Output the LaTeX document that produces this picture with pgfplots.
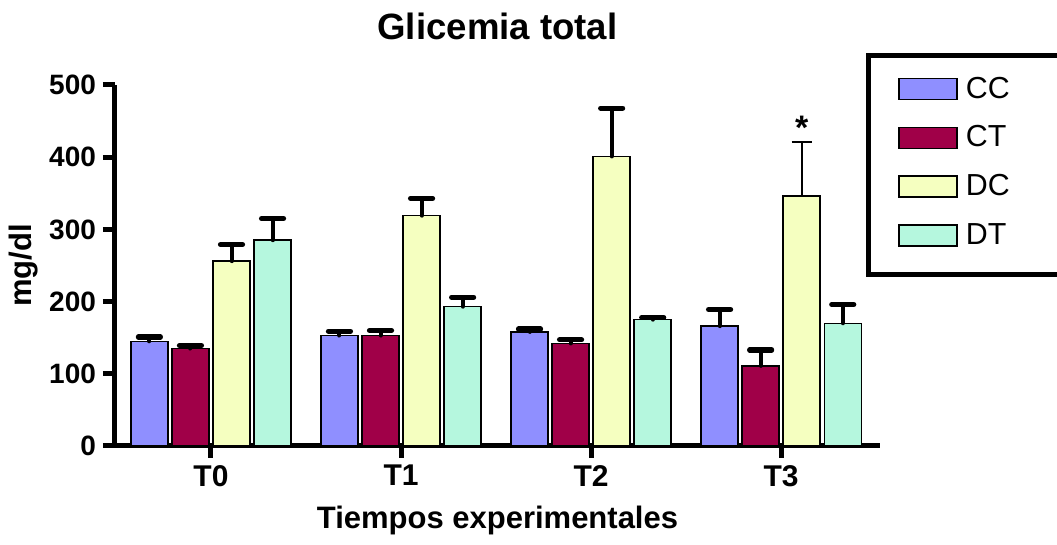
\documentclass[border=0pt]{standalone}
\usepackage{pgfplots}
\pgfplotsset{compat=1.18}
\usepackage{fontspec}
\setmainfont{Liberation Sans}
\definecolor{cCC}{RGB}{143,143,255}
\definecolor{cCT}{RGB}{160,0,72}
\definecolor{cDC}{RGB}{245,255,192}
\definecolor{cDT}{RGB}{181,247,222}
\begin{document}
\begin{tikzpicture}
\begin{axis}[
  scale only axis, width=382.5pt, height=180.5pt,
  xmin=-0.505, xmax=3.52, ymin=0, ymax=500,
  axis x line*=bottom, axis y line*=left,
  axis line style={line width=2.5pt, -},
  clip=false,
  xtick={0,1,2,3}, xticklabels={T0,T1,T2,T3},
  ytick={0,100,200,300,400,500},
  tick align=outside, major tick length=6pt,
  tick style={line width=2.5pt, black},
  /pgf/number format/assume math mode=true,
  xticklabel style={font=\bfseries\fontsize{15}{15}\selectfont},
  yticklabel style={font=\bfseries\fontsize{14}{14}\selectfont},
  title={Glicemia total},
  title style={font=\bfseries\fontsize{18.3}{18.3}\selectfont, at={(axis description cs:0.5,1.127)}, anchor=base, yshift=-6pt},
  xlabel={Tiempos experimentales},
  xlabel style={font=\bfseries\fontsize{15.5}{15.5}\selectfont, at={(axis description cs:0.5,-0.2244)}, anchor=base, yshift=-1pt},
  ylabel={mg/dl},
  ylabel style={font=\bfseries\fontsize{15.5}{15.5}\selectfont, at={(axis description cs:-0.119,0.5)}, anchor=center, rotate=0},
  ybar, bar width=0.1947,
  every axis plot/.append style={draw=black, line width=0.75pt},
  error bars/y dir=plus, error bars/y explicit,
  error bars/error bar style={line width=2pt, black, line cap=round},
  error bars/error mark options={rotate=90, mark size=5.5pt, line width=2.6pt, line cap=round, black},
  legend image code/.code={\draw[#1, line width=0.75pt] (0pt,-5.25pt) rectangle (29pt,5.25pt);},
  legend style={draw=none, fill=none, at={(axis description cs:1.0235,1.0235)}, anchor=north west,
    font=\fontsize{15.2}{15.2}\selectfont, row sep=12.3pt, column sep=4pt, inner sep=0pt,
    nodes={inner sep=0pt}},
  legend cell align=left,
]
\addplot[fill=cCC, bar shift=-0.324] coordinates {(0,145) +- (0,6) (1,153) +- (0,6) (2,158) +- (0,4) (3,166) +- (0,23)};
\addplot[fill=cCT, bar shift=-0.108] coordinates {(0,135) +- (0,4) (1,153) +- (0,7) (2,142) +- (0,5) (3,111) +- (0,22)};
\addplot[fill=cDC, bar shift=0.108] coordinates {(0,256) +- (0,23) (1,319) +- (0,24) (2,401) +- (0,67)};
\addplot[fill=cDT, bar shift=0.324] coordinates {(0,285) +- (0,30) (1,193) +- (0,13) (2,175) +- (0,3) (3,170) +- (0,26)};
\addplot[fill=cDC, bar shift=0.108, forget plot,
  error bars/error bar style={line width=0.8pt, black},
  error bars/error mark options={rotate=90, mark size=5pt, line width=0.8pt, black}]
  coordinates {(3,346) +- (0,75)};
\legend{CC,CT,DC,DT}
\node[font=\bfseries\fontsize{17}{17}\selectfont, anchor=base, yshift=1.5pt] at (axis cs:3.108,421) {*};
\draw[line width=2.5pt] (axis description cs:1.4,1.083) -- (axis description cs:0.9856,1.083) -- (axis description cs:0.9856,0.4737) -- (axis description cs:1.4,0.4737);
\end{axis}
\pgfresetboundingbox
\useasboundingbox (-57.5pt,-49.5pt) rectangle (471pt,223pt);
\end{tikzpicture}
\end{document}
